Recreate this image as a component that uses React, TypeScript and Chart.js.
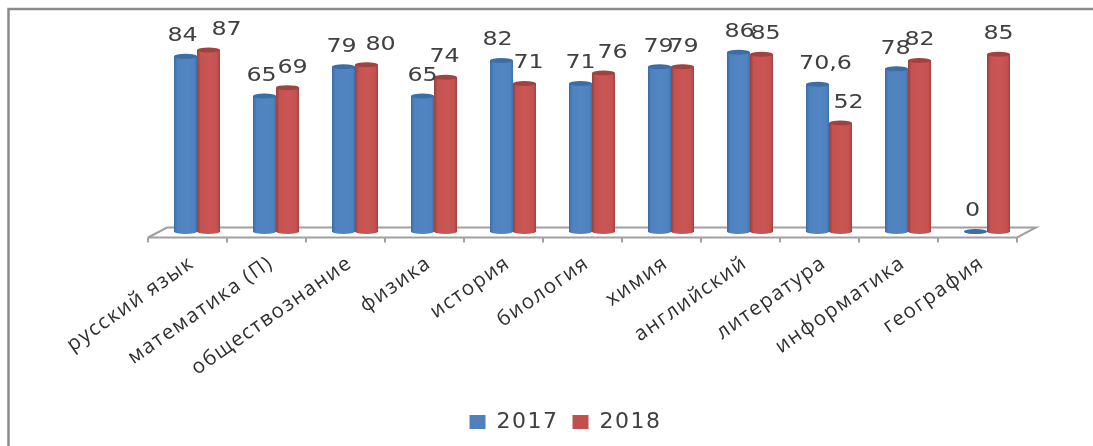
import React, { useEffect, useRef } from "react";
import { Chart, registerables } from "chart.js";

Chart.register(...registerables);

const categories = ["русский язык", "математика (П)", "обществознание", "физика", "история", "биология", "химия", "английский", "литература", "информатика", "география"];
const series2017 = [84, 65, 79, 65, 82, 71, 79, 86, 70.6, 78, 0];
const series2018 = [87, 69, 80, 74, 71, 76, 79, 85, 52, 82, 85];
const seriesNames = ["2017", "2018"];

// Horizontal nudges of the value labels, which the reference places to avoid collisions.
const labelShift2017 = [-3, -3, -2, 0, -4, 0, -1, 1, 8, -1, -3];
const labelShift2018 = [18, 5, 14, -1, 4, 9, 1, 4, 8, 0, 0];
const labelShifts = [labelShift2017, labelShift2018];

const palette = [
  { solid: "#4F81BD", edgeL: "#3a6ca6", mid: "#4f82c0", hi: "#5285c2", edgeR: "#3f70a8", cap: "#3c6da3" },
  { solid: "#C0504D", edgeL: "#96403d", mid: "#c4524f", hi: "#ca5755", edgeR: "#9e4340", cap: "#a04340" },
];

const CAP = 2.5;
const TEXT = "#404040";
const LINE = "#a0a0a0";
const spacing = "1.5px";

const setSpacing = (chart: any) => {
  (chart.ctx as any).letterSpacing = spacing;
};

const framePlugin = {
  id: "frame",
  beforeUpdate: setSpacing,
  beforeDraw(chart: any) {
    setSpacing(chart);
    const { ctx, width, height } = chart;
    ctx.save();
    ctx.fillStyle = "#ffffff";
    ctx.fillRect(0, 0, width, height);
    ctx.strokeStyle = "#8c8c8c";
    ctx.lineWidth = 2.5;
    ctx.beginPath();
    ctx.moveTo(width, 9);
    ctx.lineTo(8.5, 9);
    ctx.lineTo(8.5, height);
    ctx.stroke();
    ctx.restore();
  },
};

const floorPlugin = {
  id: "floor",
  beforeDatasetsDraw(chart: any) {
    const { ctx } = chart;
    const x = chart.scales.x;
    const zero = chart.scales.y.getPixelForValue(0);
    const step = x.getPixelForValue(1) - x.getPixelForValue(0);
    const front = zero + 6;
    const back = zero - 4;
    const left = x.getPixelForValue(0) - step / 2 - 9.5;
    const right = left + step * categories.length;
    ctx.save();
    ctx.strokeStyle = LINE;
    ctx.lineWidth = 2;
    ctx.beginPath();
    ctx.moveTo(left, front);
    ctx.lineTo(right, front);
    ctx.lineTo(right + 19, back);
    ctx.lineTo(left + 19, back);
    ctx.lineTo(left, front);
    for (let i = 0; i <= categories.length; i++) {
      ctx.moveTo(left + i * step, front);
      ctx.lineTo(left + i * step, front + 5);
    }
    ctx.stroke();
    ctx.restore();
  },
};

const cylinderPlugin = {
  id: "cylinder",
  afterDatasetDraw(chart: any, args: any) {
    const { ctx } = chart;
    const colors = palette[args.index];
    const meta = args.meta;
    ctx.save();
    meta.data.forEach((bar: any) => {
      const half = bar.width / 2;
      const l = bar.x - half;
      const r = bar.x + half;
      const g = ctx.createLinearGradient(l, 0, r, 0);
      g.addColorStop(0, colors.edgeL);
      g.addColorStop(0.15, colors.mid);
      g.addColorStop(0.55, colors.hi);
      g.addColorStop(0.88, colors.mid);
      g.addColorStop(1, colors.edgeR);
      ctx.fillStyle = g;
      ctx.beginPath();
      ctx.moveTo(l, bar.y);
      ctx.lineTo(l, bar.base);
      ctx.ellipse(bar.x, bar.base, half, CAP, 0, Math.PI, 0, true);
      ctx.lineTo(r, bar.y);
      ctx.closePath();
      ctx.fill();
      ctx.fillStyle = colors.cap;
      ctx.beginPath();
      ctx.ellipse(bar.x, bar.y, half, CAP, 0, 0, Math.PI * 2);
      ctx.fill();
    });
    ctx.restore();
  },
};

const valueLabelPlugin = {
  id: "valueLabels",
  afterDatasetsDraw(chart: any) {
    const { ctx } = chart;
    ctx.save();
    ctx.fillStyle = TEXT;
    ctx.font = '19px "DejaVu Sans"';
    ctx.textAlign = "center";
    ctx.textBaseline = "middle";
    (ctx as any).letterSpacing = "0px";
    chart.data.datasets.forEach((ds: any, d: number) => {
      chart.getDatasetMeta(d).data.forEach((bar: any, i: number) => {
        ctx.save();
        ctx.translate(bar.x + labelShifts[d][i], bar.y - 20);
        ctx.scale(1.25, 1);
        ctx.fillText(String(ds.data[i]).replace(".", ","), 0, 0);
        ctx.restore();
      });
    });
    ctx.restore();
  },
};

export default function App() {
  const ref = useRef<HTMLCanvasElement>(null);

  useEffect(() => {
    const chart = new Chart(ref.current as HTMLCanvasElement, {
      type: "bar",
      data: {
        labels: categories,
        datasets: [
          { label: seriesNames[0], data: series2017, backgroundColor: palette[0].solid, borderWidth: 0 },
          { label: seriesNames[1], data: series2018, backgroundColor: palette[1].solid, borderWidth: 0 },
        ],
      },
      options: {
        responsive: false,
        animation: false,
        devicePixelRatio: 1,
        layout: { padding: { left: 38, right: 0, top: 23, bottom: 3 } },
        datasets: { bar: { categoryPercentage: 46 / 79, barPercentage: 1 } },
        plugins: {
          tooltip: { enabled: false },
          title: { display: false },
          legend: {
            position: "bottom",
            labels: {
              boxWidth: 16,
              boxHeight: 14,
              padding: 14,
              color: TEXT,
              font: { family: "DejaVu Sans", size: 22 },
            },
          },
        },
        scales: {
          x: {
            grid: { display: false },
            border: { display: false },
            ticks: {
              autoSkip: false,
              minRotation: 35,
              maxRotation: 35,
              padding: 11.5,
              labelOffset: -5,
              color: "#303030",
              font: { family: "Open Sans", size: 20.5 },
            },
            afterFit(scale: any) {
              scale.height = 165.5;
            },
          },
          y: {
            min: 0,
            max: 100,
            position: "left",
            grid: { display: false },
            border: { display: false },
            ticks: { display: false },
            afterFit(scale: any) {
              scale.width = 119.5;
            },
          },
          pad: {
            type: "linear",
            display: true,
            position: "right",
            min: 0,
            max: 100,
            grid: { display: false },
            border: { display: false },
            ticks: { display: false },
            afterFit(scale: any) {
              scale.width = 66.5;
            },
          },
        },
      },
      plugins: [framePlugin, floorPlugin, cylinderPlugin, valueLabelPlugin],
    } as any);
    return () => chart.destroy();
  }, []);

  return (
    <div style={{ position: "fixed", left: 0, top: 0 }}>
      <canvas ref={ref} width={1093} height={446} style={{ display: "block" }} />
    </div>
  );
}
